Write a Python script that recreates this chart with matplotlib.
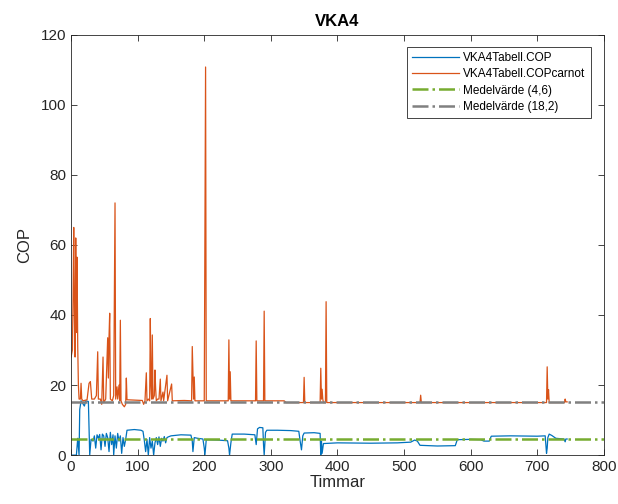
import matplotlib
matplotlib.use("Agg")
import matplotlib.pyplot as plt

plt.rcParams['font.family'] = ['Liberation Sans', 'DejaVu Sans']

# hours and values (COP)
cop_h = [0, 8, 10, 12, 13, 15, 20, 22, 26, 28, 30, 33, 35, 37, 39, 41, 43, 45,
         47, 49, 51, 53, 55, 57, 59, 61, 63, 64, 66, 68, 70, 72, 74, 76, 78, 80,
         82, 84, 95, 105, 108, 110, 112, 114, 116, 118, 120, 122, 124, 126, 128,
         130, 132, 134, 136, 138, 140, 142, 144, 146, 150, 165, 180, 182, 183,
         185, 190, 198, 200, 201, 203, 220, 235, 237, 238, 240, 242, 260, 276,
         278, 280, 283, 288, 289, 290, 292, 294, 310, 330, 342, 344, 346, 348,
         350, 365, 374, 375, 376, 377, 379, 400, 450, 490, 510, 516, 520, 524,
         550, 577, 580, 600, 615, 620, 628, 631, 660, 700, 712, 713, 714, 715,
         716, 718, 722, 728, 735, 740, 742, 743, 745]
cop_v = [0, 0, 4.8, 0, 13, 15.5, 14, 15.5, 15.3, 0, 4.5, 4.0, 5.5, 2.0, 5.8,
         4.8, 5.9, 1.5, 6.0, 5.5, 2.5, 6.2, 5.0, 1.0, 6.5, 3.0, 5.8, 0, 5.5, 2.0,
         6.2, 4.0, 5.5, 0.5, 5.0, 2.5, 4.5, 7.1, 7.3, 7.1, 6.8, 4.2, 1.0, 4.5, 0,
         5.0, 2.0, 4.0, 0, 3.5, 5.0, 3.0, 5.2, 2.5, 4.8, 4.0, 5.3, 3.5, 5.0, 5.2,
         5.5, 5.8, 5.7, 4.0, 1.0, 5.0, 4.8, 4.6, 2.0, 0, 4.4, 4.3, 4.1, 2.0, 0,
         3.5, 6.0, 6.0, 5.8, 3.0, 7.5, 7.9, 7.8, 3.0, 0, 6.5, 7.1, 7.1, 7.0, 6.8,
         4.0, 1.5, 5.5, 6.3, 6.4, 6.2, 0, 4.0, 0.5, 3.3, 3.5, 3.4, 3.5, 3.7, 4.3,
         4.0, 2.8, 2.6, 2.7, 4.4, 4.5, 4.4, 4.0, 4.0, 5.4, 5.5, 5.4, 5.5, 3.0,
         0.5, 2.0, 5.0, 6.0, 5.6, 4.8, 4.7, 4.6, 3.8, 4.6, 4.6]

# COPcarnot
carnot_h = [0, 2, 3, 4, 5, 6, 7, 8, 9, 10, 11, 12, 14, 15, 16, 18, 24, 27, 29,
            31, 35, 38, 40, 41, 44, 46, 48, 49, 52, 55, 56, 57, 58, 59, 62, 64,
            66, 67, 69, 70, 72, 73, 74, 75, 77, 80, 82, 83, 84, 107, 109, 111,
            113, 114, 116, 118, 119, 120, 121, 122, 123, 125, 126, 127, 128, 130,
            132, 134, 135, 138, 139, 144, 145, 151, 152, 170, 181, 182, 184, 185,
            186, 200, 202, 203, 236, 237, 238, 239, 240, 277, 278, 279, 289, 290,
            291, 320, 323, 349, 350, 351, 374, 375, 376, 377, 378, 379, 382, 383,
            384, 524, 525, 526, 714, 715, 716, 717, 718, 741, 742, 743, 745]
carnot_v = [28, 30, 45, 65, 40, 28, 62, 35, 56.5, 31, 20, 16, 16, 20.5, 16,
            15.5, 15.8, 20.5, 21, 16, 16, 17, 29.5, 16, 16, 14.5, 28, 15, 16,
            33.5, 22, 33.8, 40.5, 16, 15.5, 17, 72, 16, 19.5, 16, 20, 15.5, 38.5,
            15.5, 14.5, 13.8, 14.5, 22, 15.8, 15.6, 14.5, 15.5, 23.5, 15.5, 16,
            15.5, 39, 20, 16, 34.3, 16, 17, 24.3, 19, 15.5, 16, 16, 21.7, 15.5,
            18, 15.5, 22.8, 15.5, 20.3, 15.5, 15.6, 15.5, 31, 16, 22.3, 15.5,
            15.5, 110.8, 15.5, 15.5, 32.9, 16, 23.8, 15.5, 15.5, 32.6, 15.5,
            15.5, 41.1, 15.5, 15.5, 15, 15, 22.2, 15, 15, 24.8, 16, 18.8, 16, 15,
            15, 43.8, 15, 15, 17.1, 15, 15, 25.2, 16, 18.7, 15, 15, 16, 15.2, 15.2]

mean_cop = 4.6
mean_carnot = 15.1
mean_labels = ['Medelvärde (4,6)', 'Medelvärde (18,2)']

fig = plt.figure(figsize=(6.18, 5.04), dpi=100)
ax = fig.add_axes([0.115, 0.097, 0.862, 0.834])

ax.plot(cop_h, cop_v, color='#0072BD', lw=0.9, label='VKA4Tabell.COP')
ax.plot(carnot_h, carnot_v, color='#D95319', lw=0.9, label='VKA4Tabell.COPcarnot')
ax.axhline(mean_cop, color='#77AC30', lw=1.8, ls='-.', label=mean_labels[0])
ax.axhline(mean_carnot, color='#808080', lw=1.8, ls='-.', label=mean_labels[1])

ax.set_xlim(0, 800)
ax.set_ylim(0, 120)
ax.set_xticks(range(0, 801, 100))
ax.set_yticks(range(0, 121, 20))
ax.tick_params(direction='in', top=True, right=True, labelsize=11,
               colors='#262626', length=4, width=0.6)
for s in ax.spines.values():
    s.set_color('#262626')
    s.set_linewidth(0.6)

ax.set_xlabel('Timmar', fontsize=12, color='#262626', labelpad=1)
ax.set_ylabel('COP', fontsize=12, color='#262626', labelpad=6)
ax.set_title('VKA4', fontsize=12, fontweight='bold', pad=6)

leg = ax.legend(loc='upper right', bbox_to_anchor=(0.976, 0.971),
                borderaxespad=0, fontsize=8.5, fancybox=False, framealpha=1,
                edgecolor='#262626', handlelength=4.0, handletextpad=0.35,
                borderpad=0.45, labelspacing=0.35)
leg.get_frame().set_linewidth(0.6)

fig.savefig('out.png', dpi=100)
